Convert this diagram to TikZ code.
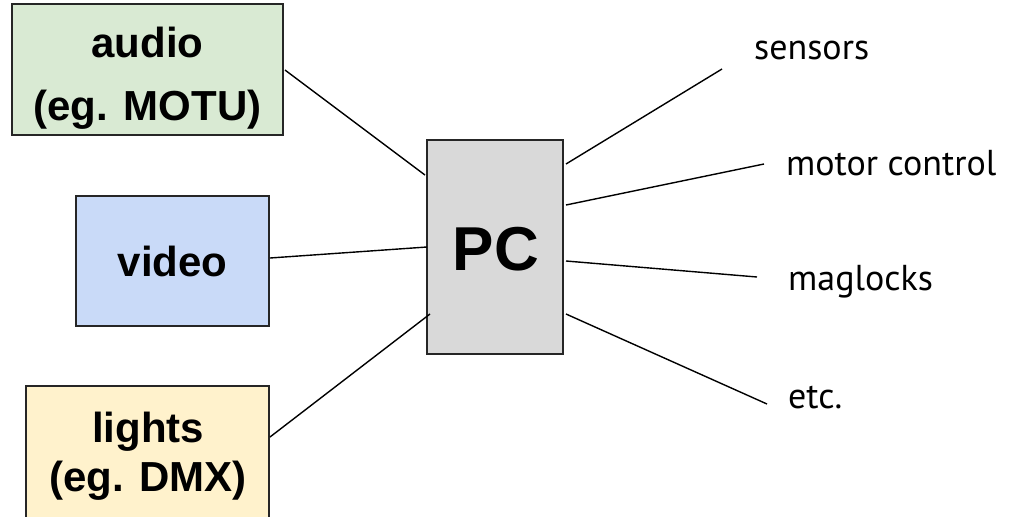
\documentclass[tikz,border=0pt]{standalone}
\usepackage{fontspec}
\setmainfont{Liberation Sans}
\newfontfamily\labelfont{PT Sans}
\definecolor{audiofill}{HTML}{D9EAD3}
\definecolor{videofill}{HTML}{C9DAF8}
\definecolor{lightsfill}{HTML}{FFF2CC}
\definecolor{pcfill}{HTML}{D9D9D9}
\begin{document}
\begin{tikzpicture}[x=1pt,y=-1pt,
  box/.style={draw=black!85,line width=1.4pt,inner sep=0pt},
  btxt/.style={anchor=base,inner sep=0pt,font=\bfseries\fontsize{42}{50}\selectfont},
  wire/.style={draw=black,line width=1.4pt},
  lbl/.style={anchor=base west,inner sep=0pt,font=\labelfont\fontsize{36}{40}\selectfont}]
\useasboundingbox (0,0) rectangle (1013,517);
\clip (0,0) rectangle (1013,517);
\node[box,fill=audiofill,minimum width=271pt,minimum height=131pt] (audio) at (147.5,69.5) {};
\node[btxt] (audio1) at (147.5,57) {audio};
\node[btxt] (audio2) at (147.5,120) {(eg. MOTU)};
\node[box,fill=videofill,minimum width=193pt,minimum height=130pt] (video) at (172.5,261) {};
\node[btxt] (videot) at (172.5,276) {video};
\node[box,fill=lightsfill,minimum width=243pt,minimum height=190pt] (lights) at (147.5,481) {};
\node[btxt] (lights1) at (148,442) {lights};
\node[btxt] (lights2) at (148,491) {(eg. DMX)};
\node[box,fill=pcfill,minimum width=136pt,minimum height=214pt] (pc) at (495,247) {};
\node[anchor=base,inner sep=0pt,font=\bfseries\fontsize{62}{70}\selectfont] (pct) at (496,270) {PC};
\node[lbl] (sensors) at (754,59) {sensors};
\node[lbl] (motor) at (786,175) {motor control};
\node[lbl] (maglocks) at (788,290) {maglocks};
\node[lbl] (etc) at (788,408) {etc.};
\coordinate (a1) at (285,70);   \coordinate (a2) at (425,175);
\coordinate (v1) at (270,258);  \coordinate (v2) at (427,247);
\coordinate (l1) at (270,437);  \coordinate (l2) at (430,314);
\coordinate (s1) at (566,164);  \coordinate (s2) at (722,69);
\coordinate (m1) at (566,205);  \coordinate (m2) at (764,164);
\coordinate (g1) at (566,261);  \coordinate (g2) at (757,277);
\coordinate (e1) at (566,314);  \coordinate (e2) at (767,404);
\draw[wire] (a1) -- (a2);
\draw[wire] (v1) -- (v2);
\draw[wire] (l1) -- (l2);
\draw[wire] (s1) -- (s2);
\draw[wire] (m1) -- (m2);
\draw[wire] (g1) -- (g2);
\draw[wire] (e1) -- (e2);
\end{tikzpicture}
\end{document}
